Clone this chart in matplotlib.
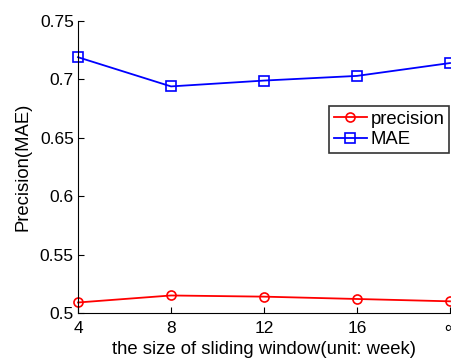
import matplotlib
matplotlib.use("Agg")
import matplotlib.pyplot as plt

plt.rcParams['font.family'] = ['Liberation Sans', 'DejaVu Sans']

window_labels = ['4', '8', '12', '16', '\u221e']
precision = [0.509, 0.515, 0.514, 0.512, 0.510]
mae = [0.719, 0.694, 0.699, 0.703, 0.714]
yticks = [0.5, 0.55, 0.6, 0.65, 0.7, 0.75]
ytick_labels = ['0.5', '0.55', '0.6', '0.65', '0.7', '0.75']

W, H = 452, 360
fig = plt.figure(figsize=(W/100, H/100), dpi=100)
ax = fig.add_axes([78/W, (H-313)/H, (450-78)/W, (313-21)/H])

x = list(range(len(window_labels)))
ax.plot(x, precision, color='red', marker='o', mfc='none', mec='red', ms=6.5, lw=1.3, mew=1.2,
        label='precision', clip_on=False)
ax.plot(x, mae, color='blue', marker='s', mfc='none', mec='blue', ms=6.5, lw=1.3, mew=1.2,
        label='MAE', clip_on=False)

ax.set_xlim(0, 4)
ax.set_ylim(0.5, 0.75)
ax.set_xticks(x)
ax.set_xticklabels(window_labels)
ax.set_yticks(yticks)
ax.set_yticklabels(ytick_labels)
ax.spines['top'].set_visible(False)
ax.spines['right'].set_visible(False)
ax.tick_params(direction='in', length=4, width=0.8, labelsize=12.5)
ax.tick_params(axis='x', pad=6)
ax.tick_params(axis='y', pad=3)
ax.set_xlabel('the size of sliding window(unit: week)', fontsize=13.3, labelpad=3)
ax.set_ylabel('Precision(MAE)', fontsize=13.3, labelpad=6)

leg = ax.legend(loc='upper left', bbox_to_anchor=((329-78)/(450-78), (313-106)/(313-21)),
                fontsize=13.3, frameon=True, fancybox=False, edgecolor='black',
                borderpad=0.25, labelspacing=0.2, handlelength=1.8, handletextpad=0.2,
                borderaxespad=0)
leg.get_frame().set_linewidth(1.2)

fig.savefig('out.png', dpi=100)
